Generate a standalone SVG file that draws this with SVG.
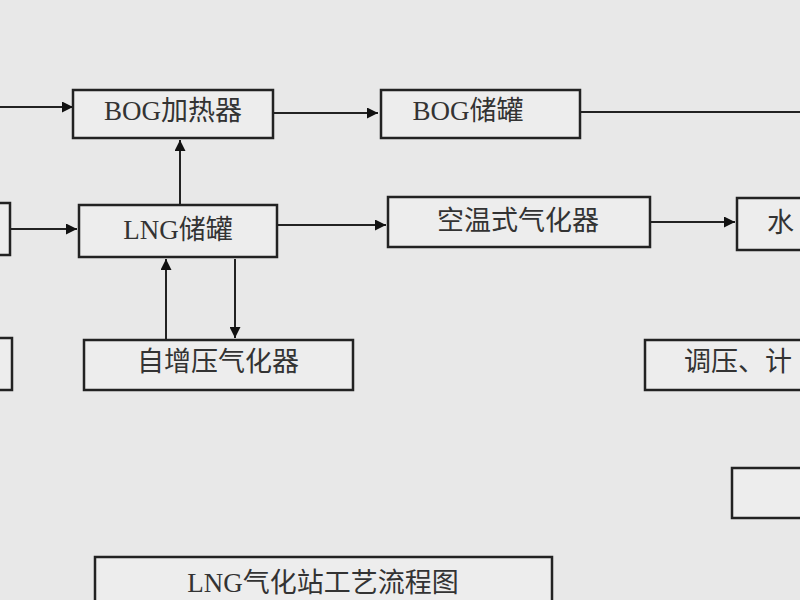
<svg xmlns="http://www.w3.org/2000/svg" width="800" height="600" viewBox="0 0 800 600">
<defs>
<style>
.b{fill:#ededed;stroke:#222;stroke-width:2.5}
.t{font-family:"Liberation Serif","Noto Sans CJK SC",serif;font-size:27px;fill:#333;text-anchor:middle;dominant-baseline:central}
.l{stroke:#222;stroke-width:2;fill:none}
</style>
<marker id="a" viewBox="0 0 10 10" refX="10" refY="5" markerWidth="12" markerHeight="11" orient="auto" markerUnits="userSpaceOnUse"><path d="M0,0L10,5L0,10z" fill="#111"/></marker>
</defs>
<rect width="800" height="600" fill="#e8e8e8"/>
<g id="connectors">
<path class="l" d="M0,107H73" marker-end="url(#a)"/>
<path class="l" d="M273,113H378" marker-end="url(#a)"/>
<path class="l" d="M580,112H800"/>
<path class="l" d="M10,229H77" marker-end="url(#a)"/>
<path class="l" d="M180,205V140" marker-end="url(#a)"/>
<path class="l" d="M277,225H386" marker-end="url(#a)"/>
<path class="l" d="M650,222H735" marker-end="url(#a)"/>
<path class="l" d="M166,340V259" marker-end="url(#a)"/>
<path class="l" d="M235,259V338" marker-end="url(#a)"/>
</g>
<g id="bogheater"><rect class="b" x="73" y="90" width="200" height="48"/><text class="t" x="173" y="111">BOG加热器</text></g>
<g id="bogtank"><rect class="b" x="381" y="90" width="199" height="48"/><text class="t" x="468" y="111">BOG储罐</text></g>
<g id="leftmid"><rect class="b" x="-5" y="203" width="15" height="52"/></g>
<g id="lngtank"><rect class="b" x="79" y="205" width="198" height="52"/><text class="t" x="178" y="230">LNG储罐</text></g>
<g id="airvap"><rect class="b" x="388" y="197" width="262" height="50"/><text class="t" x="518" y="221">空温式气化器</text></g>
<g id="water"><rect class="b" x="737" y="198" width="70" height="52"/><text class="t" x="767" y="223" style="text-anchor:start">水</text></g>
<g id="leftbot"><rect class="b" x="-5" y="338" width="17" height="52"/></g>
<g id="selfpress"><rect class="b" x="84" y="340" width="269" height="50"/><text class="t" x="218" y="362">自增压气化器</text></g>
<g id="regulate"><rect class="b" x="645" y="340" width="165" height="50"/><text class="t" x="684" y="362" style="text-anchor:start">调压、计</text></g>
<g id="rightbot"><rect class="b" x="732" y="468" width="75" height="50"/></g>
<g id="title"><rect class="b" x="95" y="557" width="457" height="55"/><text class="t" x="323" y="583">LNG气化站工艺流程图</text></g>
</svg>
